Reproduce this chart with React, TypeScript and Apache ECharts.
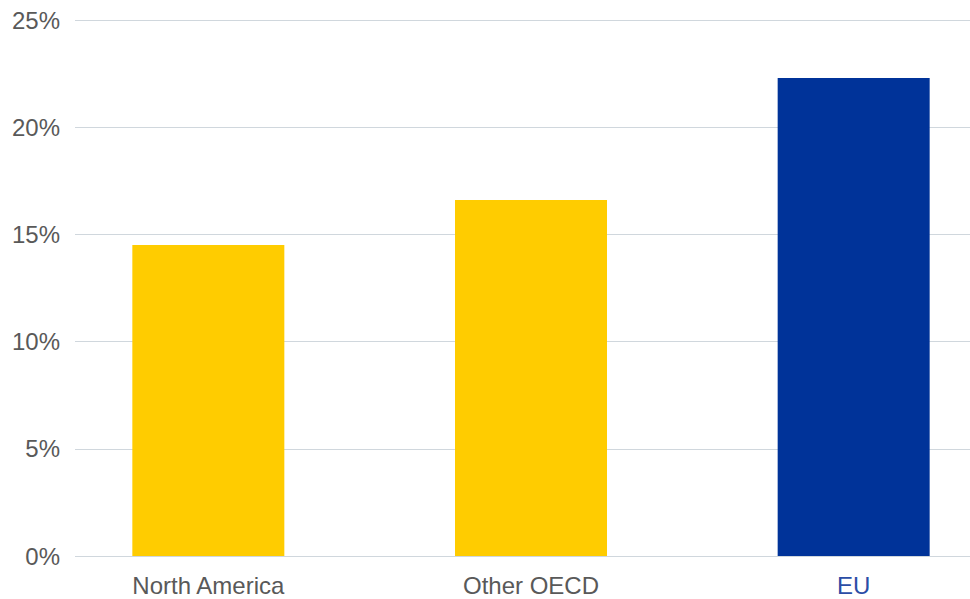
import React, { useEffect, useRef } from "react";
import * as echarts from "echarts";

const categories = ["North America", "Other OECD", "EU"];
const values = [14.5, 16.6, 22.3];
const barColors = ["#FFCC00", "#FFCC00", "#003399"];
const labelColors = ["#595959", "#595959", "#2B4DA6"];
const yTicks = [0, 5, 10, 15, 20, 25];

export default function App() {
  const ref = useRef<HTMLDivElement>(null);
  useEffect(() => {
    if (!ref.current) return;
    const chart = echarts.init(ref.current, undefined, { renderer: "svg" });
    const font = "'Liberation Sans', Arial, sans-serif";
    chart.setOption({
      animation: false,
      grid: [
        { left: 75, top: 20, width: 895, bottom: 43 },
        { left: 47, top: 20, width: 968, bottom: 43 },
      ],
      xAxis: [
        { type: "value", gridIndex: 0, show: false, min: 0, max: 1 },
        {
          type: "category",
          gridIndex: 1,
          data: categories,
          axisLine: { show: false },
          axisTick: { show: false },
          axisLabel: {
            margin: 17,
            fontFamily: font,
            fontSize: 24,
            color: (_v: any, i: number) => labelColors[i],
          },
        },
      ],
      yAxis: [
        {
          type: "value",
          gridIndex: 0,
          min: yTicks[0],
          max: yTicks[yTicks.length - 1],
          interval: 5,
          axisLine: { show: false },
          axisTick: { show: false },
          splitLine: { lineStyle: { color: "#D0D7DD", width: 1 } },
          axisLabel: {
            margin: 15,
            fontFamily: font,
            fontSize: 24,
            color: "#595959",
            formatter: (v: number) => v + "%",
          },
        },
        {
          type: "value",
          gridIndex: 1,
          min: yTicks[0],
          max: yTicks[yTicks.length - 1],
          show: false,
        },
      ],
      series: [
        {
          type: "bar",
          xAxisIndex: 1,
          yAxisIndex: 1,
          barWidth: 152,
          data: values.map((v, i) => ({ value: v, itemStyle: { color: barColors[i] } })),
        },
      ],
    });
    return () => chart.dispose();
  }, []);
  return (
    <div style={{ position: "absolute", left: 0, top: 0, width: 970, height: 599, overflow: "hidden", background: "#fff" }}>
      <div ref={ref} style={{ width: 1015, height: 599 }} />
    </div>
  );
}
